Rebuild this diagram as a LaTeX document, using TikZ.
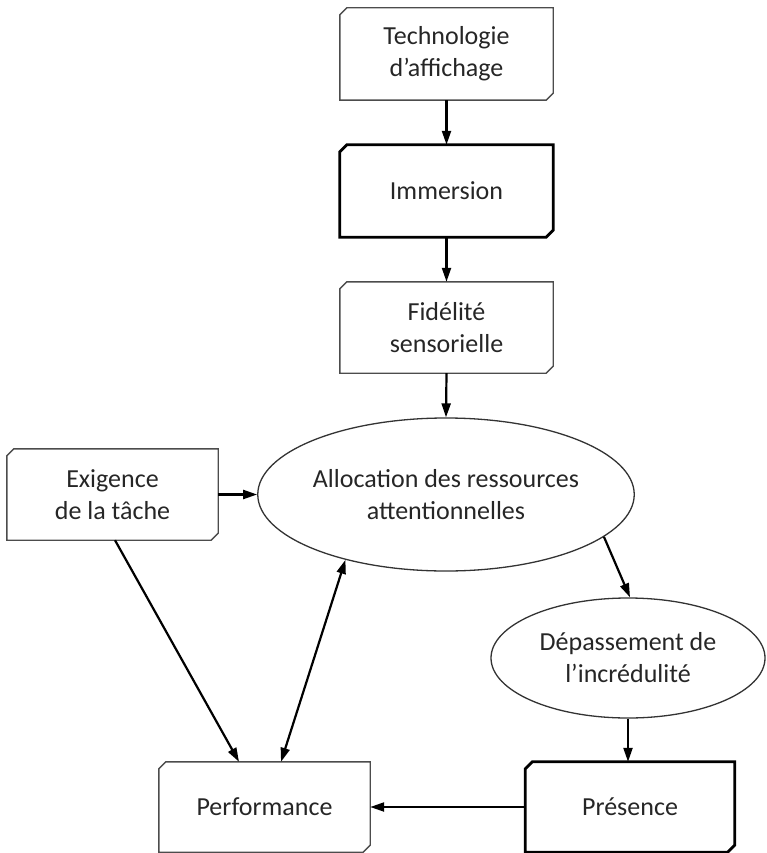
\documentclass[tikz,border=0pt]{standalone}
\usepackage{fontspec}
\setmainfont{Carlito}
\usetikzlibrary{arrows.meta,shapes.geometric}
\begin{document}
\begin{tikzpicture}[x=1pt,y=-1pt,
  every node/.style={font=\fontsize{26}{32}\selectfont, text=black!85, align=center, inner sep=0pt},
  boxnode/.style={rectangle, minimum width=212pt, minimum height=91pt},
  boxline/.style={draw=black!70, line width=1.4pt},
  boxthick/.style={draw=black, line width=2.8pt},
  oval/.style={ellipse, draw=black!80, line width=1.3pt},
  arr/.style={-{Triangle[length=14pt,width=9pt]}, line width=2.2pt},
  darr/.style={{Triangle[length=14pt,width=9pt]}-{Triangle[length=14pt,width=9pt]}, line width=2.2pt}]
\useasboundingbox (0,0) rectangle (766,853);

% nodes
\node[boxnode, minimum width=213pt, minimum height=92pt] (tech) at (446.5,54) {Technologie\\d’affichage};
\node[boxnode, minimum width=213pt, minimum height=92pt] (imm) at (446.5,191) {Immersion};
\node[boxnode, minimum width=213pt, minimum height=91pt] (fid) at (446.5,327.5) {Fidélité\\sensorielle};
\node[oval, minimum width=364pt, minimum height=153pt] (alloc) at (446,494.5) {Allocation des ressources\\attentionnelles};
\node[boxnode, minimum width=211pt, minimum height=91pt] (exig) at (112.5,494.5) {Exigence\\de la tâche};
\node[oval, minimum width=274pt, minimum height=120pt] (dep) at (628,658) {Dépassement de\\l’incrédulité};
\node[boxnode, minimum width=211pt, minimum height=90pt] (perf) at (264.5,807) {Performance};
\node[boxnode, minimum width=209pt, minimum height=90pt] (pres) at (630,807) {Présence};

% chamfered outlines
\foreach \n/\s in {tech/boxline,imm/boxthick,fid/boxline,exig/boxline,perf/boxline,pres/boxthick}{
  \draw[\s] ([xshift=7pt]\n.north west) -- (\n.north east) -- ([yshift=7pt]\n.south east)
    -- ([xshift=-7pt]\n.south east) -- (\n.south west) -- ([yshift=-7pt]\n.north west) -- cycle;
}

% connectors
\draw[arr] (tech.south) -- (imm.north);
\draw[arr] (imm.south) -- (fid.north);
\draw[arr] (fid.south) -- (alloc.north);
\draw[arr] (exig.east) -- (alloc.west);
\draw[arr] (alloc.-15.7) -- ([xshift=2pt]dep.north);
\draw[arr] (dep.south) -- (dep.south |- pres.north);
\draw[arr] (pres.west) -- (perf.east);
\draw[arr] ([xshift=2.5pt]exig.south) -- ([xshift=-25.5pt]perf.north);
\draw[darr] ([xshift=16.5pt]perf.north) -- (alloc.213);
\end{tikzpicture}
\end{document}
